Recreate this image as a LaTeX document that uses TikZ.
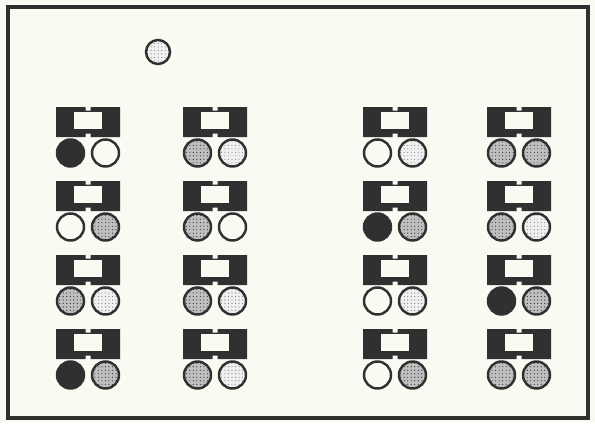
\documentclass[tikz,border=0pt]{standalone}
\usetikzlibrary{patterns}

\definecolor{paper}{RGB}{250,250,243}
\definecolor{ink}{RGB}{48,48,48}

\tikzset{
  sample/.style={draw=ink, line width=2.1pt},
  blank/.style={sample, fill=paper},
  full/.style={sample, fill=ink},
  light/.style={sample, preaction={fill=gray!12}, pattern=dots, pattern color=gray},
  dark/.style={sample, preaction={fill=gray!50}, pattern=dots, pattern color=ink},
  holder/.pic={
    % bloc avec encoches
    \fill[ink] (-32,-15) -- (-2.5,-15) -- (-2.5,-11.5) -- (2.5,-11.5) -- (2.5,-15)
      -- (32,-15) -- (32,15) -- (2.5,15) -- (2.5,11.5) -- (-2.5,11.5) -- (-2.5,15)
      -- (-32,15) -- cycle;
    % fenetre
    \fill[paper] (-14,-10.5) rectangle (14,6.5);
  }
}

\begin{document}
\begin{tikzpicture}[x=0.03cm,y=-0.03cm]

% fond et cadre
\fill[paper] (0,0) rectangle (595,423);
\draw[ink, line width=2.6pt] (8,7) rectangle (588,418);

% echantillon seul
\draw[light] (158,52) circle (12);

% porte-echantillons
\foreach \cx/\cy/\l/\r in {
  88/122/full/blank, 88/196/blank/dark, 88/270/dark/light, 88/344/full/dark,
  215/122/dark/light, 215/196/dark/blank, 215/270/dark/light, 215/344/dark/light,
  395/122/blank/light, 395/196/full/dark, 395/270/blank/light, 395/344/blank/dark,
  519/122/dark/dark, 519/196/dark/light, 519/270/full/dark, 519/344/dark/dark}
{
  \pic at (\cx,\cy) {holder};
  \draw[\l] (\cx-17.5,\cy+31) circle (13.5);
  \draw[\r] (\cx+17.5,\cy+31) circle (13.5);
}

\end{tikzpicture}
\end{document}
